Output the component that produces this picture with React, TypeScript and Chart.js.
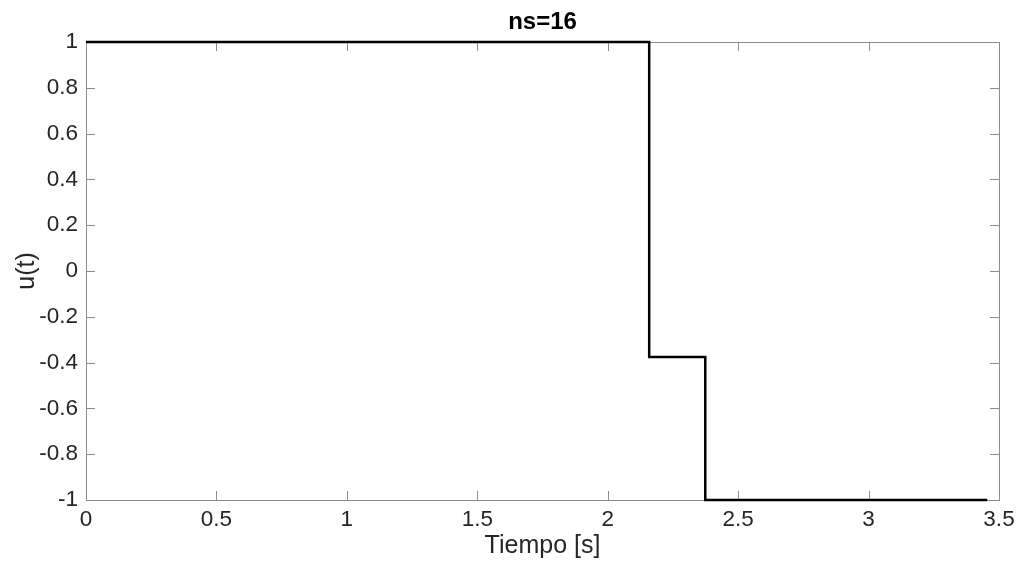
import React, { useEffect, useRef } from "react";
import { Chart, registerables } from "chart.js";

Chart.register(...registerables);

const timeValues = [0, 2.159, 2.374, 3.455];
const uValues = [1, -0.375, -1, -1];
const xTicks = [0, 0.5, 1, 1.5, 2, 2.5, 3, 3.5];
const yTicks = [1, 0.8, 0.6, 0.4, 0.2, 0, -0.2, -0.4, -0.6, -0.8, -1];

const FONT = "'Liberation Sans', Arial, Helvetica, sans-serif";
const TEXT = "#262626";
const AXIS = "#8c8c8c";

const boxTicks = {
  id: "boxTicks",
  beforeDatasetsDraw(chart: any) {
    const { ctx, chartArea: a, scales } = chart;
    const tl = 9;
    ctx.save();
    ctx.strokeStyle = AXIS;
    ctx.lineWidth = 1;
    ctx.beginPath();
    for (const v of xTicks) {
      const px = Math.round(scales.x.getPixelForValue(v)) + 0.5;
      ctx.moveTo(px, a.bottom);
      ctx.lineTo(px, a.bottom - tl);
      ctx.moveTo(px, a.top);
      ctx.lineTo(px, a.top + tl);
    }
    for (const v of yTicks) {
      const py = Math.round(scales.y.getPixelForValue(v)) + 0.5;
      ctx.moveTo(a.left, py);
      ctx.lineTo(a.left + tl, py);
      ctx.moveTo(a.right, py);
      ctx.lineTo(a.right - tl, py);
    }
    ctx.stroke();
    ctx.strokeRect(Math.round(a.left) + 0.5, Math.round(a.top) + 0.5, Math.round(a.right - a.left), Math.round(a.bottom - a.top));
    ctx.restore();
  },
};

export default function App() {
  const ref = useRef<HTMLCanvasElement | null>(null);
  useEffect(() => {
    if (!ref.current) return;
    const chart = new Chart(ref.current, {
      type: "line",
      data: {
        datasets: [
          {
            data: timeValues.map((t, i) => ({ x: t, y: uValues[i] })),
            borderColor: "#000000",
            borderWidth: 2.5,
            pointRadius: 0,
            stepped: true,
            fill: false,
            clip: false,
          },
        ],
      },
      options: {
        animation: false,
        responsive: true,
        maintainAspectRatio: false,
        layout: { padding: { left: 0, right: 24, top: 0, bottom: 0 } },
        plugins: {
          legend: { display: false },
          tooltip: { enabled: false },
          title: {
            display: true,
            text: "ns=16",
            fullSize: false,
            color: "#000000",
            font: { family: FONT, size: 24, weight: "bold" },
            padding: { top: 8, bottom: 5.2 },
          },
        },
        scales: {
          x: {
            type: "linear",
            min: 0,
            max: 3.5,
            afterFit: (s: any) => { s.height = 64; },
            afterBuildTicks: (s: any) => { s.ticks = xTicks.map((v) => ({ value: v })); },
            grid: { display: false, drawTicks: false },
            border: { display: false },
            ticks: {
              color: TEXT,
              padding: 6,
              maxRotation: 0,
              autoSkip: false,
              font: { family: FONT, size: 22.5 },
              callback: (v: any) => String(v),
            },
            title: {
              display: true,
              text: "Tiempo [s]",
              color: TEXT,
              font: { family: FONT, size: 25 },
              padding: { top: 0, bottom: 3 },
            },
          },
          y: {
            type: "linear",
            min: -1,
            max: 1,
            afterFit: (s: any) => { s.width = 86; },
            afterBuildTicks: (s: any) => { s.ticks = yTicks.map((v) => ({ value: v })); },
            grid: { display: false, drawTicks: false },
            border: { display: false },
            ticks: {
              color: TEXT,
              padding: 8,
              autoSkip: false,
              font: { family: FONT, size: 22.5 },
              callback: (v: any) => String(v),
            },
            title: {
              display: true,
              text: "u(t)",
              color: TEXT,
              font: { family: FONT, size: 25 },
              padding: { top: 12, bottom: 0 },
            },
          },
        },
      },
      plugins: [boxTicks],
    });
    return () => chart.destroy();
  }, []);
  return (
    <div style={{ position: "fixed", left: 0, top: 0, width: 1023, height: 564, background: "#fff" }}>
      <canvas ref={ref} />
    </div>
  );
}
